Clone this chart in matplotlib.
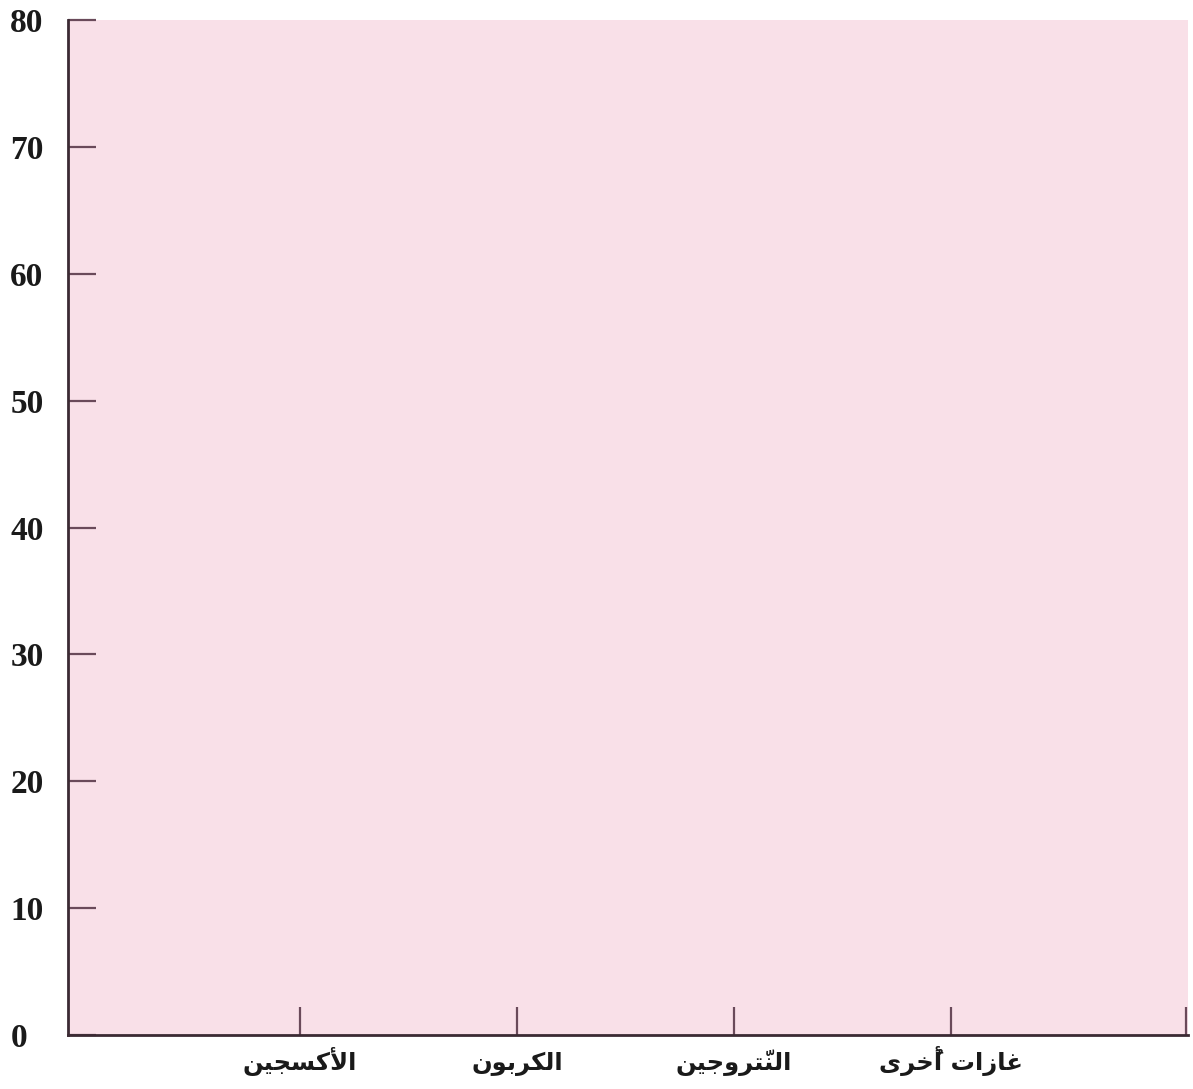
import matplotlib
matplotlib.use('Agg')
import matplotlib.pyplot as plt

# blank template chart: percentage of gases in air (values left for the reader)
CATEGORIES = ['الأكسجين', 'الكربون', 'النّتروجين', 'غازات أُخرى']
VALUES = [0, 0, 0, 0]
Y_TICKS = [0, 10, 20, 30, 40, 50, 60, 70, 80]

# minimal Arabic shaping (matplotlib has no bidi/shaping): isolated, final, initial, medial
FORMS = {
    'ا': ('\uFE8D', '\uFE8E', None, None),
    'أ': ('\uFE83', '\uFE84', None, None),
    'ل': ('\uFEDD', '\uFEDE', '\uFEDF', '\uFEE0'),
    'ك': ('\uFED9', '\uFEDA', '\uFEDB', '\uFEDC'),
    'س': ('\uFEB1', '\uFEB2', '\uFEB3', '\uFEB4'),
    'ج': ('\uFE9D', '\uFE9E', '\uFE9F', '\uFEA0'),
    'ي': ('\uFEF1', '\uFEF2', '\uFEF3', '\uFEF4'),
    'ن': ('\uFEE5', '\uFEE6', '\uFEE7', '\uFEE8'),
    'ر': ('\uFEAD', '\uFEAE', None, None),
    'ب': ('\uFE8F', '\uFE90', '\uFE91', '\uFE92'),
    'و': ('\uFEED', '\uFEEE', None, None),
    'ت': ('\uFE95', '\uFE96', '\uFE97', '\uFE98'),
    'غ': ('\uFECD', '\uFECE', '\uFECF', '\uFED0'),
    'ز': ('\uFEAF', '\uFEB0', None, None),
    'خ': ('\uFEA5', '\uFEA6', '\uFEA7', '\uFEA8'),
    'ى': ('\uFEEF', '\uFEF0', None, None),
}
LAM_ALEF = {'ا': ('\uFEFB', '\uFEFC'), 'أ': ('\uFEF7', '\uFEF8')}
MARKS = '\u064E\u064F\u0650\u0651\u0652'


def shape(text):
    clusters = []
    for c in text:
        if c in MARKS and clusters:
            clusters[-1][1] += c
        else:
            clusters.append([c, ''])
    out = []
    prev_joins = False
    j = 0
    while j < len(clusters):
        base, marks = clusters[j]
        nxt = clusters[j + 1][0] if j + 1 < len(clusters) else None
        if base == 'ل' and nxt in LAM_ALEF:
            lig = LAM_ALEF[nxt][1 if prev_joins else 0]
            out.append((lig, marks + clusters[j + 1][1]))
            prev_joins = False
            j += 2
            continue
        if base not in FORMS:
            out.append((base, marks))
            prev_joins = False
            j += 1
            continue
        iso, fin, ini, med = FORMS[base]
        joins_next = ini is not None and nxt in FORMS
        if prev_joins and joins_next:
            g = med
        elif prev_joins:
            g = fin
        elif joins_next:
            g = ini
        else:
            g = iso
        out.append((g, marks))
        prev_joins = joins_next
        j += 1
    # visual (left-to-right) order; marks go ahead of their base so they land on it
    return ''.join(m + g for g, m in reversed(out))


INK = '#3b2a33'
TICK = '#6a4a5a'
PINK = '#f9e0e8'

fig = plt.figure(figsize=(11.93, 10.89), dpi=100)
ax = fig.add_axes([0.057, 0.0496, 0.9387, 0.932])
ax.set_facecolor(PINK)

x = list(range(len(CATEGORIES)))
ax.bar(x, VALUES, width=0.5, color='#c0392b')

ax.set_xlim(-1.069, 4.092)
ax.set_ylim(0, 80)

for side in ('top', 'right'):
    ax.spines[side].set_visible(False)
for side in ('left', 'bottom'):
    ax.spines[side].set_color(INK)
    ax.spines[side].set_linewidth(2.0)

ax.set_yticks(Y_TICKS)
ax.set_yticklabels([str(v) for v in Y_TICKS])
ax.tick_params(axis='y', direction='in', length=20, width=1.6, color=TICK,
               pad=41.5, labelsize=24)
for lab in ax.get_yticklabels():
    lab.set_horizontalalignment('left')
    lab.set_fontfamily(['Liberation Serif', 'DejaVu Serif'])
    lab.set_fontweight('bold')
    lab.set_color('#1a1a1a')

ax.set_xticks(x)
ax.set_xticklabels([shape(c) for c in CATEGORIES])
ax.set_xticks([4.083], minor=True)
ax.tick_params(axis='x', which='both', direction='in', length=20, width=1.6,
               color=TICK, pad=25, labelsize=17.5)
for lab in ax.get_xticklabels():
    lab.set_fontfamily(['DejaVu Sans'])
    lab.set_fontweight('bold')
    lab.set_color('#1a1a1a')
    lab.set_verticalalignment('baseline')

fig.savefig('out.png', dpi=100)
